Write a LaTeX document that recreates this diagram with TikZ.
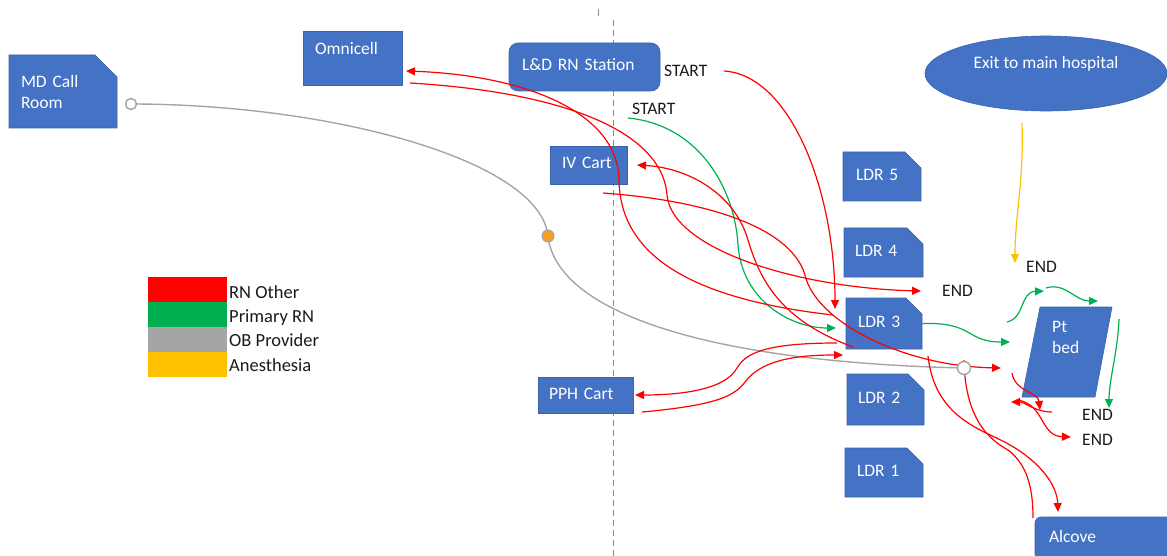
\documentclass[tikz,border=0pt]{standalone}
\usepackage{fontspec}
\setmainfont{Carlito}
\usetikzlibrary{arrows.meta,shapes.misc,shapes.geometric}
\definecolor{boxblue}{HTML}{4472C4}
\definecolor{boxedge}{HTML}{3A62AE}
\definecolor{rnred}{HTML}{FF0000}
\definecolor{prngreen}{HTML}{00B050}
\definecolor{obgray}{HTML}{A5A5A5}
\definecolor{anorange}{HTML}{FFC000}
\definecolor{dotorange}{HTML}{F4A024}
\definecolor{labelc}{HTML}{1A1A1A}
\definecolor{dashc}{HTML}{8C8C8C}
\begin{document}
\begin{tikzpicture}[x=1pt,y=-1pt,
  base/.style={font=\fontsize{17.5}{21}\selectfont},
  box/.style={base, fill=boxblue, draw=boxedge, line width=0.6pt, text=white, align=left, inner sep=0pt},
  oneline/.style={text height=12pt, text depth=4pt},
  snipbox/.style={box, chamfered rectangle, chamfered rectangle corners=north east, chamfered rectangle xsep=8pt, chamfered rectangle ysep=8pt},
  lbl/.style={base, text=labelc, inner sep=0pt, anchor=base west},
  leglbl/.style={lbl, font=\fontsize{18.5}{22}\selectfont},
  legbar/.style={rectangle, inner sep=0pt, minimum width=79pt, minimum height=25pt, draw=none},
  rn/.style={draw=rnred, line width=1.2pt},
  prn/.style={draw=prngreen, line width=1.2pt},
  ob/.style={draw=obgray, line width=1.4pt},
  an/.style={draw=anorange, line width=1.2pt},
  tip/.style={-{Triangle[length=9pt,width=8pt]}},
  dashline/.style={draw=dashc, line width=0.8pt, dash pattern=on 6pt off 4pt},
  ocirc/.style={circle, draw=obgray, fill=white, line width=1.5pt, minimum size=11pt, inner sep=0pt},
  odotst/.style={circle, draw=obgray, fill=dotorange, line width=1pt, minimum size=12pt, inner sep=0pt}
]
\useasboundingbox (0,0) rectangle (1167,556);

% dashed divider
\coordinate (tk1) at (598,9);
\coordinate (tk2) at (598,16);
\coordinate (dtop) at (613,20);
\coordinate (dbot) at (613,560);
\draw[dashc, line width=0.8pt] (tk1) -- (tk2);
\draw[dashline] (dtop) -- (dbot);

% boxes
\node[snipbox, chamfered rectangle xsep=11pt, chamfered rectangle ysep=11pt, minimum width=108pt, minimum height=73pt, text width=84pt] (mdcall) at (63,91.5) {MD Call\\Room};
\node[box, minimum width=99pt, minimum height=54pt, text width=75pt, text height=12pt, text depth=19.5pt] (omni) at (352.5,58) {Omnicell};
\node[box, oneline, rounded corners=9pt, minimum width=151pt, minimum height=48pt, text width=125pt] (ldst) at (584.5,67) {L\&D RN Station};
\node[box, oneline, minimum width=77pt, minimum height=38pt, text width=53pt] (ivcart) at (588.5,165) {IV Cart};
\node[box, oneline, minimum width=95pt, minimum height=36pt, text width=73pt] (pph) at (585.5,395) {PPH Cart};
\node[snipbox, oneline, minimum width=78pt, minimum height=49pt, text width=52pt] (ldr5) at (882,176.5) {LDR 5};
\node[snipbox, oneline, minimum width=79pt, minimum height=49pt, text width=57pt] (ldr4) at (883.5,252.5) {LDR 4};
\node[snipbox, oneline, minimum width=76pt, minimum height=51pt, text width=52pt] (ldr3) at (884,323.5) {LDR 3};
\node[snipbox, oneline, minimum width=77pt, minimum height=51pt, text width=55pt] (ldr2) at (885.5,399.5) {LDR 2};
\node[snipbox, oneline, minimum width=78pt, minimum height=49pt, text width=54pt] (ldr1) at (884,472.5) {LDR 1};
\node[box, ellipse, align=center, minimum width=242pt, minimum height=75pt, text height=12pt, text depth=21pt] (exitn) at (1046,73.5) {Exit to main hospital};
\node[box, oneline, rounded corners=6pt, minimum width=145pt, minimum height=43pt, text width=117pt] (alcove) at (1107.5,538.5) {Alcove};

% patient bed (parallelogram)
\coordinate (bed1) at (1040,307);
\coordinate (bed2) at (1112,307);
\coordinate (bed3) at (1095,397);
\coordinate (bed4) at (1022,397);
\filldraw[fill=boxblue, draw=boxedge, line width=0.6pt] (bed1) -- (bed2) -- (bed3) -- (bed4) -- cycle;
\node[base, text=white, align=left, inner sep=0pt, text width=40pt, anchor=west] (ptbed) at (1052,337.5) {Pt\\bed};

% legend
\node[legbar, fill=rnred] (lg1) at (187.5,289.5) {};
\node[legbar, fill=prngreen] (lg2) at (187.5,314.5) {};
\node[legbar, fill=obgray] (lg3) at (187.5,339.5) {};
\node[legbar, fill=anorange] (lg4) at (187.5,364.5) {};
\node[leglbl] (lt1) at (229,298) {RN Other};
\node[leglbl] (lt2) at (229,322) {Primary RN};
\node[leglbl] (lt3) at (229,346.5) {OB Provider};
\node[leglbl] (lt4) at (229,371) {Anesthesia};

% labels
\node[lbl] (st1) at (664,76.7) {START};
\node[lbl] (st2) at (632,115) {START};
\node[lbl] (en1) at (942,296.7) {END};
\node[lbl] (en2) at (1026,272.3) {END};
\node[lbl] (en3) at (1082,420) {END};
\node[lbl] (en4) at (1082,445) {END};

% connector end points
\coordinate (gA) at (131,104);
\coordinate (gB) at (548,236);
\coordinate (gC) at (964,368);
\coordinate (r1a) at (724,71);   \coordinate (r1b) at (835,309);
\coordinate (g1a) at (628,118);  \coordinate (g1b) at (836,328);
\coordinate (r2a) at (833,315);  \coordinate (r2b) at (406,71);
\coordinate (r3a) at (410,83);   \coordinate (r3b) at (921,291);
\coordinate (r4a) at (603,193);  \coordinate (r4b) at (1001,368);
\coordinate (r5a) at (853,347);  \coordinate (r5b) at (637,165);
\coordinate (p1a) at (837,343);  \coordinate (p1b) at (635,395);
\coordinate (p2a) at (642,412);  \coordinate (p2b) at (843,355);
\coordinate (g2b) at (1010,342);
\coordinate (g3a) at (1007,322); \coordinate (g3b) at (1044,291);
\coordinate (g4a) at (1046,288); \coordinate (g4b) at (1098,301);
\coordinate (g5a) at (1119,319); \coordinate (g5b) at (1109,408);
\coordinate (y1a) at (1022,123); \coordinate (y1b) at (1015,263);
\coordinate (b1a) at (1012,373); \coordinate (b1b) at (1040,410);
\coordinate (b2a) at (1052,412); \coordinate (b2b) at (1011,402);
\coordinate (b3a) at (1018,400); \coordinate (b3b) at (1071,437);
\coordinate (a1a) at (928,356);  \coordinate (a1b) at (1058,512);
\coordinate (a2a) at (964,360);  \coordinate (a2b) at (1033,518);

% OB provider
\draw[ob] (gA) .. controls (330,104) and (540,160) .. (gB) .. controls (556,310) and (700,362) .. (gC);

% anesthesia
\draw[an,tip] (y1a) .. controls (1024,180) and (1015,215) .. (y1b);

% primary RN
\draw[prn,tip] (g1a) .. controls (700,125) and (735,190) .. (738,245) .. controls (742,300) and (790,328) .. (g1b);
\draw[prn,tip] (ldr3.east) .. controls (975,322) and (965,342) .. (g2b);
\draw[prn,tip] (g3a) .. controls (1025,318) and (1020,292) .. (g3b);
\draw[prn,tip] (g4a) .. controls (1065,282) and (1075,301) .. (g4b);
\draw[prn,tip] (g5a) .. controls (1118,350) and (1109,380) .. (g5b);

% RN other
\draw[rn,tip] (r1a) .. controls (790,75) and (835,190) .. (r1b);
\draw[rn,tip] (r2a) .. controls (700,300) and (620,260) .. (619,180) .. controls (618,110) and (520,75) .. (r2b);
\draw[rn,tip] (r3a) .. controls (560,92) and (662,130) .. (667,195) .. controls (672,250) and (800,288) .. (r3b);
\draw[rn,tip] (r4a) .. controls (700,200) and (790,225) .. (805,275) .. controls (815,320) and (900,366) .. (r4b);
\draw[rn,tip] (r5a) .. controls (780,320) and (760,280) .. (748,240) .. controls (735,195) and (690,168) .. (r5b);
\draw[rn,tip] (p1a) .. controls (760,343) and (745,355) .. (737,368) .. controls (725,390) and (680,395) .. (p1b);
\draw[rn,tip] (p2a) .. controls (720,405) and (735,395) .. (745,382) .. controls (760,362) and (790,355) .. (p2b);
\draw[rn,tip] (b1a) .. controls (1015,392) and (1038,392) .. (b1b);
\draw[rn,tip] (b2a) .. controls (1035,412) and (1025,402) .. (b2b);
\draw[rn,tip] (b3a) .. controls (1045,405) and (1040,436) .. (b3b);
\draw[rn,tip] (a1a) .. controls (935,420) and (985,430) .. (1010,445) .. controls (1040,462) and (1057,485) .. (a1b);
\draw[rn] (a2a) .. controls (965,420) and (990,440) .. (1008,450) .. controls (1028,465) and (1033,490) .. (a2b);

% circles on top
\node[ocirc] (mdcirc) at (gA) {};
\node[odotst] (odot) at (gB) {};
\node[ocirc, minimum size=13pt] (bedcirc) at (gC) {};
\end{tikzpicture}
\end{document}
